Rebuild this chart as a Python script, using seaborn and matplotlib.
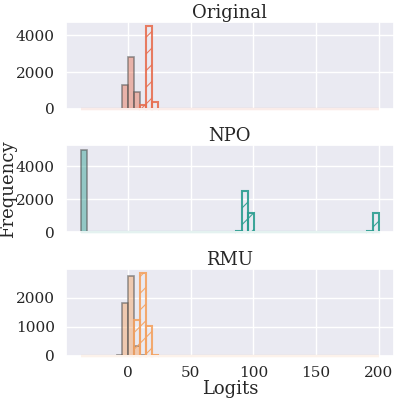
import numpy as np
import pandas as pd
import seaborn as sns
import matplotlib.pyplot as plt
from matplotlib.colors import to_rgba

# shared bins over all panels
bin_lo, bin_hi, n_bins = -37.5, 200, 50

titles = ['Original', 'NPO', 'RMU']
colors = ['#e76f51', '#2a9d8f', '#f4a261']

# solid (grey edged) histogram, logit = bin centre, count
orig_solid_x = [-1.9, 2.9, 7.6]
orig_solid_n = [1300, 2800, 900]
npo_solid_x = [-35.1, -30.4]
npo_solid_n = [5000, 40]
rmu_solid_x = [-6.6, -1.9, 2.9, 7.6, 12.4]
rmu_solid_n = [30, 1820, 2750, 350, 40]

# hatched histogram
orig_hatch_x = [12.4, 17.1, 21.9]
orig_hatch_n = [200, 4500, 350]
npo_hatch_x = [88.4, 93.1, 97.9, 192.9, 197.6]
npo_hatch_n = [60, 2500, 1200, 100, 1170]
rmu_hatch_x = [7.6, 12.4, 17.1, 21.9]
rmu_hatch_n = [1220, 2850, 1020, 30]

solid = [(orig_solid_x, orig_solid_n), (npo_solid_x, npo_solid_n), (rmu_solid_x, rmu_solid_n)]
hatch = [(orig_hatch_x, orig_hatch_n), (npo_hatch_x, npo_hatch_n), (rmu_hatch_x, rmu_hatch_n)]

sns.set_theme(style='darkgrid')
plt.rcParams['font.family'] = ['DejaVu Serif']
plt.rcParams['hatch.linewidth'] = 0.8

fig, axes = plt.subplots(3, 1, figsize=(3.99, 3.99), dpi=100, sharex=True)

for ax, title, c, (sx, sn), (hx, hn) in zip(axes, titles, colors, solid, hatch):
    plt.rcParams['hatch.color'] = c
    d1 = pd.DataFrame({'logit': sx, 'n': sn})
    d2 = pd.DataFrame({'logit': hx, 'n': hn})
    sns.histplot(data=d1, x='logit', weights='n', bins=n_bins, binrange=(bin_lo, bin_hi), ax=ax,
                 facecolor=to_rgba(c, 0.45), edgecolor=to_rgba('#555555', 0.6),
                 linewidth=1.2, clip_on=False)
    sns.histplot(data=d2, x='logit', weights='n', bins=n_bins, binrange=(bin_lo, bin_hi), ax=ax,
                 facecolor='none', edgecolor=to_rgba(c, 0.9), hatch='//',
                 linewidth=1.5, clip_on=False)
    ax.set_title(title, fontsize=13, pad=3)
    ax.set_ylabel('')
    ax.set_xlabel('')
    ax.tick_params(axis='y', labelsize=11, pad=2)
    ax.tick_params(axis='x', labelsize=11, pad=1)

axes[0].set_yticks([0, 2000, 4000])
axes[1].set_yticks([0, 2000, 4000])
axes[2].set_yticks([0, 1000, 2000])
axes[2].set_xticks([0, 50, 100, 150, 200])
axes[1].set_ylabel('Frequency', fontsize=13)
axes[1].yaxis.set_label_coords(-0.148, 0.5)
axes[2].set_xlabel('Logits', fontsize=13, labelpad=0)

fig.subplots_adjust(left=0.165, right=0.987, top=0.945, bottom=0.108, hspace=0.42)
fig.savefig('out.png', dpi=100)
